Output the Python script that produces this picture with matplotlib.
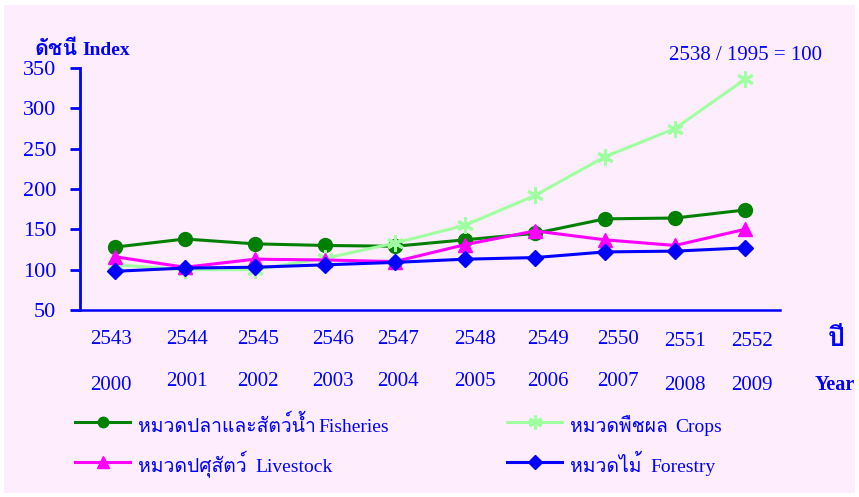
import matplotlib
matplotlib.use("Agg")
import matplotlib.pyplot as plt
from matplotlib import font_manager
from matplotlib.ft2font import FT2Font
from matplotlib.lines import Line2D
from matplotlib.patches import Rectangle

# ---- data ----
years_be = ["2543", "2544", "2545", "2546", "2547", "2548", "2549", "2550", "2551", "2552"]
years_ce = ["2000", "2001", "2002", "2003", "2004", "2005", "2006", "2007", "2008", "2009"]
fisheries = [128, 138, 132, 130, 129, 137, 145, 163, 164, 174]
crops = [106, 100, 100, 114, 133, 155, 192, 240, 275, 336]
livestock = [116, 103, 113, 112, 110, 131, 148, 137, 130, 150]
forestry = [98, 102, 103, 106, 109, 113, 115, 122, 123, 127]
yticks = [50, 100, 150, 200, 250, 300, 350]
legend_thai = ["หมวดปลาและสัตว์น้ำ", "หมวดพืชผล", "หมวดปศุสัตว์", "หมวดไม้"]
legend_en = ["Fisheries", "Crops", "Livestock", "Forestry"]

# ---- find a font with Thai glyphs ----
thai_font = None
pref = []
for f in font_manager.fontManager.ttflist:
    try:
        cm = FT2Font(f.fname).get_charmap()
    except Exception:
        continue
    if 0x0E14 in cm and 0x0E35 in cm:
        pref.append(f.name)
if pref:
    thai_font = pref[0]
fam = ["Liberation Serif"] + ([thai_font] if thai_font else []) + ["DejaVu Sans"]
plt.rcParams["font.family"] = fam

W, H = 859, 497
BLUE = "#0000FF"
fig = plt.figure(figsize=(W / 100, H / 100), dpi=100, facecolor="white")
bg = "#FDEDFD"
fig.patches.append(Rectangle((4 / W, 4 / H), (W - 8) / W, (H - 9) / H,
                             transform=fig.transFigure, facecolor=bg,
                             edgecolor="none", zorder=-10))

def fx(px):
    return px / W

def fy(py):
    return 1 - py / H

renderer = fig.canvas.get_renderer()

def fit_width(t, target_px):
    w = t.get_window_extent(renderer).width
    if w > 0:
        t.set_fontsize(t.get_fontsize() * target_px / w)

ax = fig.add_axes([fx(80), fy(310), fx(780) - fx(80), fy(68) - fy(310)])
ax.set_facecolor("none")
x = list(range(len(years_ce)))

series = [
    (fisheries, "#008000", "o", 10, 1, 7.5),
    (crops, "#A0FFA0", (6, 2, 0), 12, 2.2, 10),
    (livestock, "#FF00FF", "^", 10, 1, 8),
    (forestry, "#0000FF", "D", 8, 1, 7),
]
for vals, col, mk, ms, mew, lms in series:
    ax.plot(x, vals, color=col, lw=2.2, marker=mk, markersize=ms,
            markeredgewidth=mew, markeredgecolor=col, markerfacecolor=col,
            clip_on=False)

ax.set_xlim(-0.5, 9.5)
ax.set_ylim(50, 350)
ax.set_yticks(yticks)
ax.set_yticklabels([str(v) for v in yticks], fontsize=16, color=BLUE)
ax.set_xticks([])
for s in ["top", "right"]:
    ax.spines[s].set_visible(False)
ax.spines["left"].set_color(BLUE)
ax.spines["left"].set_linewidth(2.0)
ax.spines["bottom"].set_color(BLUE)
ax.spines["bottom"].set_linewidth(1.8)
ax.tick_params(axis="y", direction="out", length=7, width=2.0, color=BLUE, pad=10)

# x labels (positioned like the original)
lbl_x = [111, 187, 258, 333, 398, 475, 548, 618, 685, 752]
row1_y = [340, 340, 340, 340, 340, 340, 340, 340, 342, 342]
row2_y = [385, 382, 382, 382, 382, 382, 382, 382, 385, 385]
for i in range(len(years_be)):
    fig.text(fx(lbl_x[i]), fy(row1_y[i]), years_be[i], ha="center", va="center",
             fontsize=15, color=BLUE)
    fig.text(fx(lbl_x[i]), fy(row2_y[i]), years_ce[i], ha="center", va="center",
             fontsize=15, color=BLUE)
t_pi = fig.text(fx(836), fy(340), "ปี", ha="center", va="center", fontsize=20,
                fontweight="bold", color=BLUE)
fit_width(t_pi, 17)
fig.text(fx(855), fy(385), "Year", ha="right", va="center", fontsize=14.5,
         fontweight="bold", color=BLUE)

t_idx = fig.text(fx(35), fy(55), "ดัชนี", ha="left", va="baseline", fontsize=19.5,
                 fontweight="bold", color=BLUE)
fit_width(t_idx, 43)
fig.text(fx(82), fy(55), "Index", ha="left", va="baseline", fontsize=14,
         fontweight="bold", color=BLUE)
fig.text(fx(822), fy(56), "2538 / 1995 = 100", ha="right", va="center",
         fontsize=15, color=BLUE)

# legend
leg_pos = [(75, 422, 318), (507, 422, 675), (75, 462, 255), (507, 462, 650)]
thai_targets = [170, 97, 110, 74]
thai_texts = []
for (px, py, ex), th, en, (vals, col, mk, ms, mew, lms) in zip(leg_pos, legend_thai, legend_en, series):
    fig.add_artist(Line2D([fx(px), fx(px + 55)], [fy(py), fy(py)],
                          transform=fig.transFigure, color=col, lw=2.2))
    fig.add_artist(Line2D([fx(px + 27.5)], [fy(py)], transform=fig.transFigure,
                          marker=mk, markersize=lms, markeredgewidth=mew,
                          markeredgecolor=col, markerfacecolor=col, color=col))
    thai_texts.append(fig.text(fx(px + 63), fy(py + 10), th, ha="left", va="baseline",
                               fontsize=16, color=BLUE))
    fig.text(fx(ex), fy(py + 10), en, ha="left", va="baseline",
             fontsize=14, color=BLUE)

# one common size for the Thai legend words, fitted to the reference widths
ratios = []
for t, tw in zip(thai_texts, thai_targets):
    w = t.get_window_extent(renderer).width
    if w > 0:
        ratios.append(tw / w)
if ratios:
    r = sum(ratios) / len(ratios)
    for t in thai_texts:
        t.set_fontsize(t.get_fontsize() * r)

fig.savefig("out.png", dpi=100, facecolor="white")
